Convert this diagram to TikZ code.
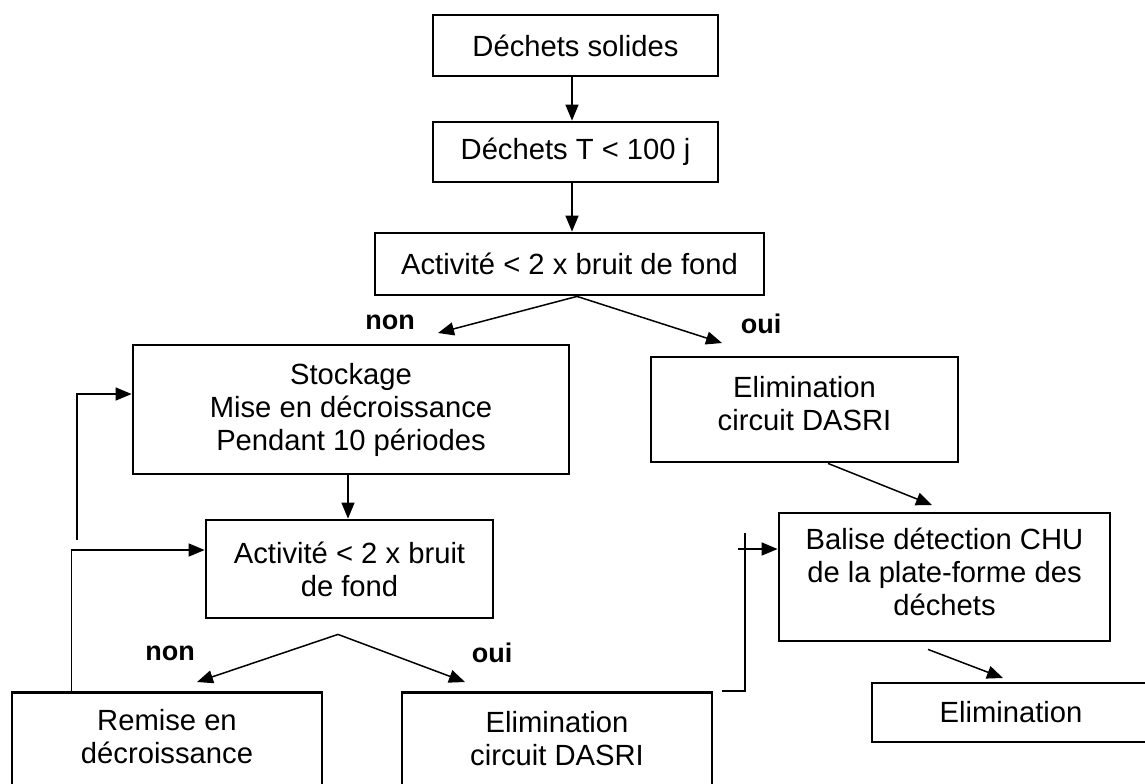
\documentclass[tikz,border=0pt]{standalone}
\usepackage{fontspec}
\setmainfont{Liberation Sans}
\usetikzlibrary{arrows.meta}
\begin{document}
\begin{tikzpicture}[x=0.5pt,y=-0.5pt,
  box/.style={draw, line width=1.4pt, rectangle, inner sep=0pt, align=center, font=\fontsize{14.6}{16.5}\selectfont},
  txt/.style={align=center, inner sep=0pt, font=\fontsize{14.6}{16.5}\selectfont},
  lbl/.style={inner sep=0pt, font=\fontsize{13.5}{15}\selectfont\bfseries},
  arr/.style={line width=0.75pt, -{Triangle[length=8pt,width=6.5pt]}},
  ln/.style={line width=0.75pt}]
\useasboundingbox (0,0) rectangle (1145,783);
\fill[white] (0,0) rectangle (1145,783);

% boxes
\node[box, minimum width=142.5pt, minimum height=30.5pt] (b1) at (575.5,45.5) {Déchets solides};
\node[box, minimum width=142.5pt, minimum height=30pt] (b2) at (575.5,152) {Déchets T < 100 j};
\node[box, minimum width=194.5pt, minimum height=31pt] (b3) at (569.5,264) {Activité < 2 x bruit de fond};
\node[box, minimum width=218pt, minimum height=64.5pt] (b4) at (351,409.5) {Stockage\\Mise en décroissance\\Pendant 10 périodes};
\node[box, minimum width=143.5pt, minimum height=49pt] (b5) at (349.5,569) {Activité < 2 x bruit\\de fond};
\node[box, minimum width=155pt, minimum height=60pt, anchor=north] (b6) at (167,691) {};
\node[txt] (t6) at (167,736.5) {Remise en\\décroissance};
\node[box, minimum width=155pt, minimum height=60pt, anchor=north] (b7) at (557,691) {};
\node[txt] (t7) at (557,738.5) {Elimination\\circuit DASRI};
\node[box, minimum width=153.5pt, minimum height=52.5pt] (b8) at (804.5,409.5) {};
\node[txt] (t8) at (804.5,403.5) {Elimination\\circuit DASRI};
\node[box, minimum width=165.5pt, minimum height=64pt] (b9) at (944.5,577) {};
\node[txt] (t9) at (944.5,571.5) {Balise détection CHU\\de la plate-forme des\\déchets};
\node[box, minimum width=139pt, minimum height=29.5pt] (b10) at (1011,712.5) {Elimination};

% labels
\node[lbl] (non1) at (390,322) {non};
\node[lbl] (oui1) at (761,324) {oui};
\node[lbl] (non2) at (170,653) {non};
\node[lbl] (oui2) at (492,653) {oui};

% straight arrows
\draw[arr] ([xshift=-1.75pt]b1.south) -- ([xshift=-1.75pt]b1.south |- b2.north);
\draw[arr] ([xshift=-1.75pt]b2.south) -- ([xshift=-1.75pt]b2.south |- b3.north);
\draw[arr] ([xshift=-1.5pt]b4.south) -- ([xshift=-1.5pt]b4.south |- b5.north);

% first decision
\coordinate (apex1) at ([xshift=3.75pt]b3.south);
\coordinate (n1) at (438,333);
\coordinate (o1) at (722,343);
\draw[arr] (apex1) -- (n1);
\draw[arr] (apex1) -- (o1);

% second decision
\coordinate (apex2) at ([xshift=-5.75pt,yshift=-7.5pt]b5.south);
\coordinate (n2) at (197,682);
\coordinate (o2) at (465,682);
\draw[arr] (apex2) -- (n2);
\draw[arr] (apex2) -- (o2);

% DASRI -> Balise -> Elimination
\coordinate (d1) at ([xshift=11.75pt]b8.south);
\coordinate (d2) at (932,505);
\draw[arr] (d1) -- (d2);
\coordinate (e1) at ([xshift=-8.25pt,yshift=-3.5pt]b9.south);
\coordinate (e2) at (1003,678);
\draw[arr] (e1) -- (e2);

% loops on the left
\draw[arr] ([xshift=30.5pt]b6.north west) |- ([yshift=9.5pt]b5.west);
\coordinate (l2) at (77,540);
\draw[arr] (l2) |- ([yshift=7.75pt]b4.west);

% connector to Balise
\coordinate (r1) at (722,691);
\coordinate (r2) at (745,533);
\draw[ln] (r1) -| (r2);
\coordinate (r3) at (738,549);
\draw[arr] (r3) -- (r3 -| b9.west);
\end{tikzpicture}
\end{document}
